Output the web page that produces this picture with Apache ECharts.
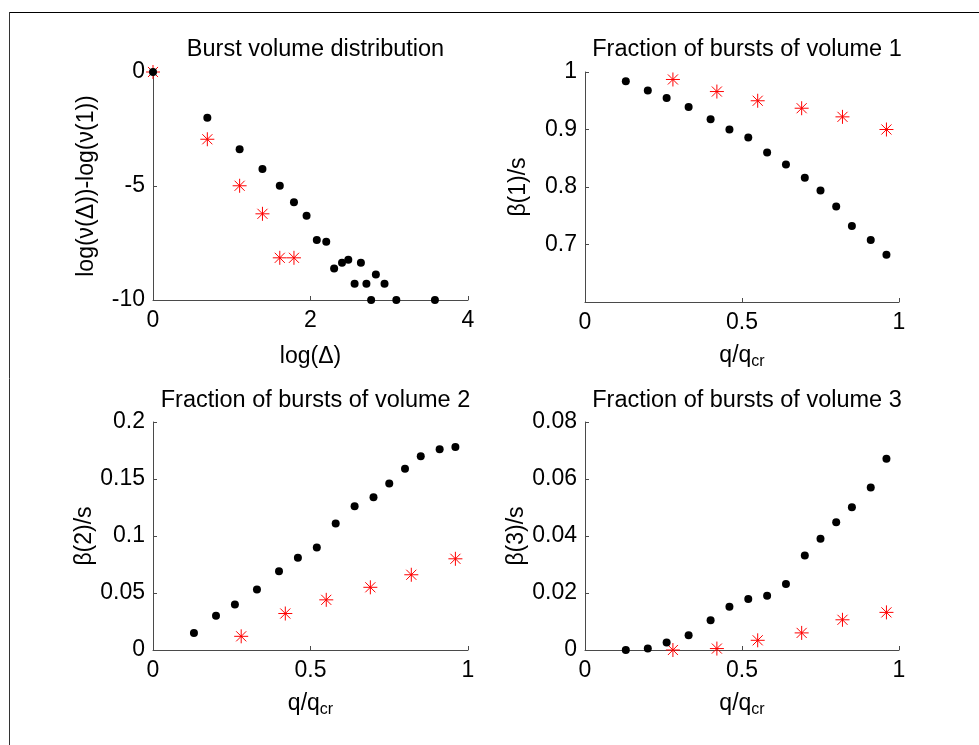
<!DOCTYPE html>
<html>
<head>
<meta charset="utf-8">
<script src="https://cdn.jsdelivr.net/npm/echarts@6/dist/echarts.min.js"></script>
<style>
html,body{margin:0;padding:0;background:#fff;}
#chart{width:979px;height:745px;}
</style>
</head>
<body>
<div id="chart"></div>
<script>
// ---- Data ----
const titles = ['Burst volume distribution', 'Fraction of bursts of volume 1', 'Fraction of bursts of volume 2', 'Fraction of bursts of volume 3'];

// Panel 1: log(Delta) vs log(nu(Delta))-log(nu(1))
const logDeltaBlack = [0, 0.69, 1.10, 1.39, 1.61, 1.79, 1.95, 2.08, 2.20, 2.30, 2.40, 2.48, 2.56, 2.64, 2.71, 2.77, 2.83, 2.94, 3.09, 3.58];
const logNuBlack    = [0, -2.01, -3.39, -4.25, -4.99, -5.71, -6.30, -7.37, -7.44, -8.62, -8.37, -8.24, -9.29, -8.37, -9.29, -10, -8.88, -9.29, -10, -10];
const logDeltaRed   = [0, 0.69, 1.10, 1.39, 1.61, 1.79];
const logNuRed      = [0, -2.95, -4.99, -6.22, -8.15, -8.15];

// Panels 2-4: q/qcr
const qBlack = [0.13, 0.20, 0.26, 0.33, 0.40, 0.46, 0.52, 0.58, 0.64, 0.70, 0.75, 0.80, 0.85, 0.91, 0.96];
const qRed   = [0.28, 0.42, 0.55, 0.69, 0.82, 0.96];

const beta1Black = [0.984, 0.968, 0.955, 0.939, 0.918, 0.900, 0.886, 0.860, 0.839, 0.816, 0.794, 0.766, 0.732, 0.708, 0.682];
const beta1Red   = [0.987, 0.966, 0.950, 0.937, 0.922, 0.900];
const beta2Black = [0.015, 0.030, 0.040, 0.053, 0.069, 0.081, 0.090, 0.111, 0.126, 0.134, 0.146, 0.159, 0.170, 0.176, 0.178];
const beta2Red   = [0.012, 0.032, 0.044, 0.055, 0.066, 0.080];
const beta3Black = [0.0, 0.0005, 0.0026, 0.0052, 0.0104, 0.0152, 0.0179, 0.0190, 0.0232, 0.0332, 0.0390, 0.0448, 0.0501, 0.0570, 0.0671];
const beta3Red   = [0.0, 0.0005, 0.0034, 0.0060, 0.0106, 0.0132];

// Axis tick settings
const xTicks1 = {min: 0, max: 4, interval: 2};
const yTicks1 = {min: -10, max: 0, interval: 5};
const xTicksQ = {min: 0, max: 1, interval: 0.5};
const yTicks2 = {min: 0.6, max: 1, interval: 0.1};
const yTicks3 = {min: 0, max: 0.2, interval: 0.05};
const yTicks4 = {min: 0, max: 0.08, interval: 0.02};

const yNames = ['log(\u03bd(\u0394))-log(\u03bd(1))', '\u03b2(1)/s', '\u03b2(2)/s', '\u03b2(3)/s'];

// ---- Styling ----
const FONT = '"Liberation Sans", Arial, Helvetica, sans-serif';
const FS = 23;
const TFS = 23.5;
const AXC = '#4a4a4a';
const STAR = 'path://M-1,0L1,0M0,-1L0,1M-0.72,-0.72L0.72,0.72M-0.72,0.72L0.72,-0.72';

const grids = [
  {left: 153, top: 72, width: 315, height: 228},
  {left: 585, top: 72, width: 314, height: 230},
  {left: 153, top: 422, width: 315, height: 228},
  {left: 585, top: 422, width: 314, height: 228}
];

function zip(a, b) { return a.map((v, i) => [v, b[i]]); }

function fmt(v) {
  return String(+v.toFixed(4));
}

function xAxis(idx, t, name, gap) {
  return Object.assign({
    type: 'value', gridIndex: idx,
    name: name, nameLocation: 'middle', nameGap: gap,
    nameTextStyle: {
      fontFamily: FONT, fontSize: FS, color: '#000',
      rich: {
        a: {fontFamily: FONT, fontSize: FS, color: '#000'},
        b: {fontFamily: FONT, fontSize: 16, color: '#000', padding: [13, 0, 0, 0]}
      }
    },
    axisLine: {onZero: false, lineStyle: {color: AXC, width: 1}},
    axisTick: {inside: true, length: 4, lineStyle: {color: AXC}},
    axisLabel: {fontFamily: FONT, fontSize: FS, color: '#000', margin: 9, formatter: fmt},
    splitLine: {show: false}
  }, t);
}

function yAxis(idx, t, name, hideMin) {
  return Object.assign({
    type: 'value', gridIndex: idx,
    name: name, nameLocation: 'middle', nameGap: 55,
    nameTextStyle: {fontFamily: FONT, fontSize: FS, color: '#000'},
    axisLine: {onZero: false, lineStyle: {color: AXC, width: 1}},
    axisTick: {inside: true, length: 4, lineStyle: {color: AXC}},
    axisLabel: {fontFamily: FONT, fontSize: FS, color: '#000', margin: 8,
      formatter: function (v) { if (hideMin && Math.abs(v - t.min) < 1e-9) return ''; return fmt(v); }},
    splitLine: {show: false}
  }, t);
}

function black(idx, data) {
  return {type: 'scatter', xAxisIndex: idx, yAxisIndex: idx, data: data, clip: false,
    symbol: 'circle', symbolSize: 8, itemStyle: {color: '#000', opacity: 1}, z: 3, silent: true};
}
function red(idx, data) {
  return {type: 'scatter', xAxisIndex: idx, yAxisIndex: idx, data: data, clip: false,
    symbol: STAR, symbolSize: 14,
    itemStyle: {color: 'none', borderColor: '#ff0000', borderWidth: 1, opacity: 1}, z: 2, silent: true};
}

const qName = '{a|q/q}{b|cr}';

const option = {
  backgroundColor: '#fff',
  animation: false,
  title: grids.map((g, i) => ({
    text: titles[i],
    left: g.left + g.width / 2,
    top: i < 2 ? 33 : 384,
    textAlign: 'center',
    textStyle: {fontFamily: FONT, fontSize: TFS, fontWeight: 'normal', color: '#000'}
  })),
  grid: grids,
  xAxis: [
    xAxis(0, xTicks1, 'log(\u0394)', 45),
    xAxis(1, xTicksQ, qName, 39),
    xAxis(2, xTicksQ, qName, 39),
    xAxis(3, xTicksQ, qName, 39)
  ],
  yAxis: [
    yAxis(0, yTicks1, yNames[0], false),
    yAxis(1, yTicks2, yNames[1], true),
    yAxis(2, yTicks3, yNames[2], false),
    yAxis(3, yTicks4, yNames[3], false)
  ],
  series: [
    black(0, zip(logDeltaBlack, logNuBlack)),
    red(0, zip(logDeltaRed, logNuRed)),
    black(1, zip(qBlack, beta1Black)),
    red(1, zip(qRed, beta1Red)),
    black(2, zip(qBlack, beta2Black)),
    red(2, zip(qRed, beta2Red)),
    black(3, zip(qBlack, beta3Black)),
    red(3, zip(qRed, beta3Red))
  ],
  graphic: [
    {type: 'line', shape: {x1: 9, y1: 12.5, x2: 979, y2: 12.5}, style: {stroke: '#000', lineWidth: 1}, silent: true},
    {type: 'line', shape: {x1: 9.5, y1: 12, x2: 9.5, y2: 745}, style: {stroke: '#333', lineWidth: 1}, silent: true}
  ]
};

const chart = echarts.init(document.getElementById('chart'), null, {renderer: 'canvas'});
chart.setOption(option);
</script>
</body>
</html>
